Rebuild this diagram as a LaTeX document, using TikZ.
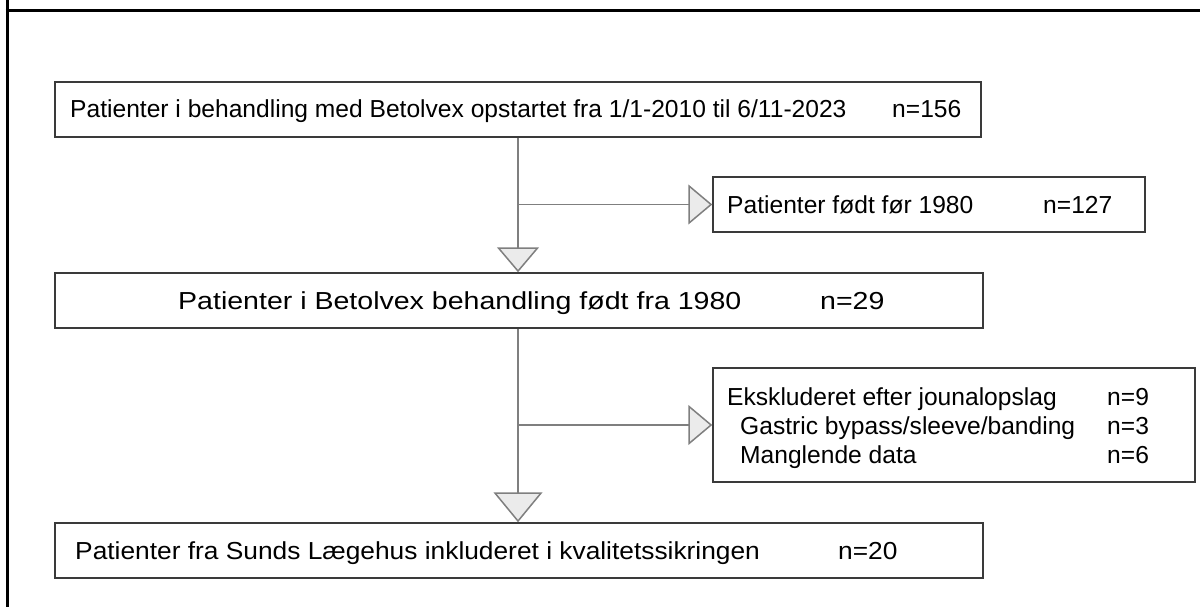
\documentclass[tikz,border=0pt]{standalone}
\usepackage{fontspec}
\setmainfont{Liberation Sans}
\usetikzlibrary{arrows.meta}
\definecolor{boxline}{HTML}{3A3A3A}
\definecolor{conline}{HTML}{7F7F7F}
\definecolor{tipfill}{HTML}{EBEBEB}
\tikzset{
  box/.style={draw=boxline, line width=1.5pt, fill=white, rectangle, inner sep=0pt},
  txt/.style={anchor=base west, inner sep=0pt, font=\fontsize{24.6}{29}\selectfont, text=black},
  con/.style={draw=conline, line width=1.5pt},
  tiph/.style={-{Triangle[length=24pt,width=40pt,fill=tipfill]}},
  tipa/.style={-{Triangle[length=25pt,width=42pt,fill=tipfill]}},
  tipb/.style={-{Triangle[length=30pt,width=49pt,fill=tipfill]}},
  frame/.style={draw=black, line width=3pt}
}
\begin{document}
\begin{tikzpicture}[x=1pt,y=-1pt]
\useasboundingbox (0,0) rectangle (1200,607);
% outer frame lines
\draw[frame] (7,0) -- (7,607);
\draw[frame] (5.5,11) -- (1200,11);
% boxes
\node[box, minimum width=926pt, minimum height=55pt] (b1) at (518,109.5) {};
\node[box, minimum width=432pt, minimum height=55pt] (b2) at (929,204.5) {};
\node[box, minimum width=928pt, minimum height=55pt] (b3) at (519,300.5) {};
\node[box, minimum width=482pt, minimum height=114pt] (b4) at (954,425) {};
\node[box, minimum width=928pt, minimum height=55pt] (b5) at (519,550.5) {};
% texts
\node[txt] (t1) at (70,118) {Patienter i behandling med Betolvex opstartet fra 1/1-2010 til 6/11-2023};
\node[txt] (n1) at (892,118) {n=156};
\node[txt] (t2) at (727,213) {Patienter født før 1980};
\node[txt] (n2) at (1043,213) {n=127};
\node[txt] (t3) at (178,309) {\scalebox{1.16}[1]{Patienter i Betolvex behandling født fra 1980}};
\node[txt] (n3) at (820,309) {\scalebox{1.16}[1]{n=29}};
\node[txt] (t4a) at (727,405) {Ekskluderet efter jounalopslag};
\node[txt] (n4a) at (1107,405) {n=9};
\node[txt] (t4b) at (740,434) {Gastric bypass/sleeve/banding};
\node[txt] (n4b) at (1107,434) {n=3};
\node[txt] (t4c) at (740,463) {Manglende data};
\node[txt] (n4c) at (1107,463) {n=6};
\node[txt] (t5) at (75,559) {\scalebox{1.07}[1]{Patienter fra Sunds Lægehus inkluderet i kvalitetssikringen}};
\node[txt] (n5) at (838,559) {\scalebox{1.07}[1]{n=20}};
% connectors
\coordinate (j1) at (b1.south |- b2.west);
\coordinate (j2) at (b1.south |- b4.west);
\draw[con, tipa] (b1.south) -- (b1.south |- b3.north);
\draw[con, tiph] (j1) -- (b2.west);
\draw[con, tipb] (b3.south -| b1.south) -- (b1.south |- b5.north);
\draw[con, tiph] (j2) -- (b4.west);
\end{tikzpicture}
\end{document}
